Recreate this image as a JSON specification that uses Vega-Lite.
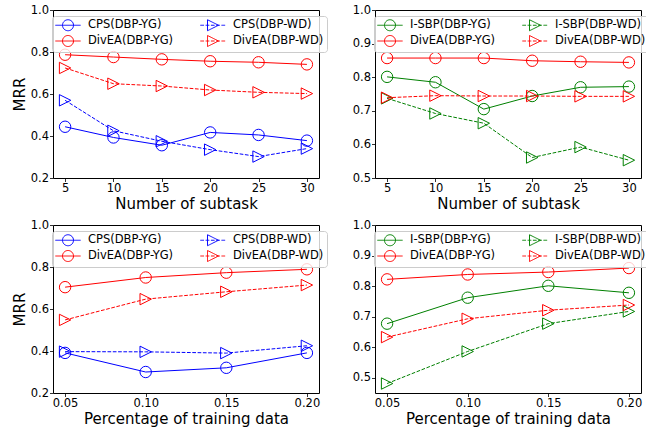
{
  "$schema": "https://vega.github.io/schema/vega-lite/v6.json",
  "background": "white",
  "padding": {"left": 11, "top": 3, "right": 2, "bottom": 2},
  "config": {
    "font": "DejaVu Sans",
    "view": {"stroke": "black", "strokeWidth": 1},
    "axis": {"grid": false, "domain": false, "ticks": true, "tickSize": 3.5, "tickColor": "black", "tickWidth": 0.8,
      "labelFontSize": 11.5, "labelFont": "DejaVu Sans", "labelColor": "black", "labelPadding": 1,
      "titleFontSize": 15, "titleFont": "DejaVu Sans", "titleFontWeight": "normal", "titleColor": "black", "titlePadding": 2,
      "labelFlush": false, "labelOverlap": false},
    "axisY": {"titlePadding": 3},
    "legend": {"orient": "none", "legendX": -1, "legendY": 6, "columns": 2, "title": null,
      "labelFontSize": 11.5, "labelFont": "DejaVu Sans", "labelColor": "black",
      "symbolSize": 121, "symbolOffset": 7, "labelOffset": 14, "columnPadding": 24, "rowPadding": 0, "padding": 3,
      "fillColor": "rgba(255,255,255,0.8)", "strokeColor": "#cccccc", "cornerRadius": 3, "symbolStrokeWidth": 1,
      "symbolFillColor": "transparent", "symbolOpacity": 1, "symbolDash": [1, 0]}
  },
  "datasets": {
    "tl": [
      {"x": 5, "y": 0.444, "s": "CPS(DBP-YG)"}, {"x": 10, "y": 0.393, "s": "CPS(DBP-YG)"}, {"x": 15, "y": 0.356, "s": "CPS(DBP-YG)"}, {"x": 20, "y": 0.417, "s": "CPS(DBP-YG)"}, {"x": 25, "y": 0.405, "s": "CPS(DBP-YG)"}, {"x": 30, "y": 0.378, "s": "CPS(DBP-YG)"},
      {"x": 5, "y": 0.570, "s": "CPS(DBP-WD)"}, {"x": 10, "y": 0.425, "s": "CPS(DBP-WD)"}, {"x": 15, "y": 0.375, "s": "CPS(DBP-WD)"}, {"x": 20, "y": 0.335, "s": "CPS(DBP-WD)"}, {"x": 25, "y": 0.302, "s": "CPS(DBP-WD)"}, {"x": 30, "y": 0.340, "s": "CPS(DBP-WD)"},
      {"x": 5, "y": 0.787, "s": "DivEA(DBP-YG)"}, {"x": 10, "y": 0.776, "s": "DivEA(DBP-YG)"}, {"x": 15, "y": 0.765, "s": "DivEA(DBP-YG)"}, {"x": 20, "y": 0.756, "s": "DivEA(DBP-YG)"}, {"x": 25, "y": 0.751, "s": "DivEA(DBP-YG)"}, {"x": 30, "y": 0.741, "s": "DivEA(DBP-YG)"},
      {"x": 5, "y": 0.724, "s": "DivEA(DBP-WD)"}, {"x": 10, "y": 0.649, "s": "DivEA(DBP-WD)"}, {"x": 15, "y": 0.638, "s": "DivEA(DBP-WD)"}, {"x": 20, "y": 0.619, "s": "DivEA(DBP-WD)"}, {"x": 25, "y": 0.608, "s": "DivEA(DBP-WD)"}, {"x": 30, "y": 0.602, "s": "DivEA(DBP-WD)"}
    ],
    "tr": [
      {"x": 5, "y": 0.801, "s": "I-SBP(DBP-YG)"}, {"x": 10, "y": 0.785, "s": "I-SBP(DBP-YG)"}, {"x": 15, "y": 0.705, "s": "I-SBP(DBP-YG)"}, {"x": 20, "y": 0.744, "s": "I-SBP(DBP-YG)"}, {"x": 25, "y": 0.770, "s": "I-SBP(DBP-YG)"}, {"x": 30, "y": 0.772, "s": "I-SBP(DBP-YG)"},
      {"x": 5, "y": 0.737, "s": "I-SBP(DBP-WD)"}, {"x": 10, "y": 0.692, "s": "I-SBP(DBP-WD)"}, {"x": 15, "y": 0.663, "s": "I-SBP(DBP-WD)"}, {"x": 20, "y": 0.561, "s": "I-SBP(DBP-WD)"}, {"x": 25, "y": 0.592, "s": "I-SBP(DBP-WD)"}, {"x": 30, "y": 0.553, "s": "I-SBP(DBP-WD)"},
      {"x": 5, "y": 0.857, "s": "DivEA(DBP-YG)"}, {"x": 10, "y": 0.857, "s": "DivEA(DBP-YG)"}, {"x": 15, "y": 0.857, "s": "DivEA(DBP-YG)"}, {"x": 20, "y": 0.849, "s": "DivEA(DBP-YG)"}, {"x": 25, "y": 0.846, "s": "DivEA(DBP-YG)"}, {"x": 30, "y": 0.844, "s": "DivEA(DBP-YG)"},
      {"x": 5, "y": 0.739, "s": "DivEA(DBP-WD)"}, {"x": 10, "y": 0.745, "s": "DivEA(DBP-WD)"}, {"x": 15, "y": 0.744, "s": "DivEA(DBP-WD)"}, {"x": 20, "y": 0.744, "s": "DivEA(DBP-WD)"}, {"x": 25, "y": 0.743, "s": "DivEA(DBP-WD)"}, {"x": 30, "y": 0.743, "s": "DivEA(DBP-WD)"}
    ],
    "bl": [
      {"x": 0.05, "y": 0.391, "s": "CPS(DBP-YG)"}, {"x": 0.10, "y": 0.300, "s": "CPS(DBP-YG)"}, {"x": 0.15, "y": 0.320, "s": "CPS(DBP-YG)"}, {"x": 0.20, "y": 0.391, "s": "CPS(DBP-YG)"},
      {"x": 0.05, "y": 0.397, "s": "CPS(DBP-WD)"}, {"x": 0.10, "y": 0.396, "s": "CPS(DBP-WD)"}, {"x": 0.15, "y": 0.390, "s": "CPS(DBP-WD)"}, {"x": 0.20, "y": 0.425, "s": "CPS(DBP-WD)"},
      {"x": 0.05, "y": 0.704, "s": "DivEA(DBP-YG)"}, {"x": 0.10, "y": 0.750, "s": "DivEA(DBP-YG)"}, {"x": 0.15, "y": 0.773, "s": "DivEA(DBP-YG)"}, {"x": 0.20, "y": 0.789, "s": "DivEA(DBP-YG)"},
      {"x": 0.05, "y": 0.548, "s": "DivEA(DBP-WD)"}, {"x": 0.10, "y": 0.647, "s": "DivEA(DBP-WD)"}, {"x": 0.15, "y": 0.682, "s": "DivEA(DBP-WD)"}, {"x": 0.20, "y": 0.714, "s": "DivEA(DBP-WD)"}
    ],
    "br": [
      {"x": 0.05, "y": 0.677, "s": "I-SBP(DBP-YG)"}, {"x": 0.10, "y": 0.762, "s": "I-SBP(DBP-YG)"}, {"x": 0.15, "y": 0.801, "s": "I-SBP(DBP-YG)"}, {"x": 0.20, "y": 0.778, "s": "I-SBP(DBP-YG)"},
      {"x": 0.05, "y": 0.481, "s": "I-SBP(DBP-WD)"}, {"x": 0.10, "y": 0.586, "s": "I-SBP(DBP-WD)"}, {"x": 0.15, "y": 0.677, "s": "I-SBP(DBP-WD)"}, {"x": 0.20, "y": 0.717, "s": "I-SBP(DBP-WD)"},
      {"x": 0.05, "y": 0.822, "s": "DivEA(DBP-YG)"}, {"x": 0.10, "y": 0.838, "s": "DivEA(DBP-YG)"}, {"x": 0.15, "y": 0.846, "s": "DivEA(DBP-YG)"}, {"x": 0.20, "y": 0.859, "s": "DivEA(DBP-YG)"},
      {"x": 0.05, "y": 0.633, "s": "DivEA(DBP-WD)"}, {"x": 0.10, "y": 0.693, "s": "DivEA(DBP-WD)"}, {"x": 0.15, "y": 0.721, "s": "DivEA(DBP-WD)"}, {"x": 0.20, "y": 0.738, "s": "DivEA(DBP-WD)"}
    ]
  },
  "resolve": {"scale": {"x": "independent", "y": "independent", "color": "independent", "shape": "independent"}, "legend": {"color": "independent", "shape": "independent"}},
  "spacing": 6,
  "vconcat": [
    {
      "spacing": 23,
      "resolve": {"scale": {"x": "independent", "y": "independent", "color": "independent", "shape": "independent"}, "legend": {"color": "independent", "shape": "independent"}},
      "hconcat": [
        {
          "width": 266, "height": 168,
          "data": {"name": "tl"},
          "encoding": {
            "x": {"field": "x", "type": "quantitative", "scale": {"domain": [3.75, 31.25], "nice": false, "zero": false}, "axis": {"values": [5, 10, 15, 20, 25, 30], "format": "d", "title": "Number of subtask"}},
            "y": {"field": "y", "type": "quantitative", "scale": {"domain": [0.2, 1.0], "nice": false, "zero": false}, "axis": {"values": [0.2, 0.4, 0.6, 0.8, 1.0], "format": ".1f", "title": "MRR"}},
            "color": {"field": "s", "type": "nominal", "title": null, "scale": {"domain": ["CPS(DBP-YG)", "DivEA(DBP-YG)", "CPS(DBP-WD)", "DivEA(DBP-WD)"], "range": ["#0000ff", "#ff0000", "#0000ff", "#ff0000"]}}
          },
          "layer": [
            {"transform": [{"filter": "indexof(datum.s,'YG')>=0"}], "mark": {"type": "line", "strokeWidth": 1}},
            {"transform": [{"filter": "indexof(datum.s,'WD')>=0"}], "mark": {"type": "line", "strokeWidth": 1, "strokeDash": [3.7, 1.6]}},
            {"transform": [{"filter": "indexof(datum.s,'YG')>=0"}], "mark": {"type": "point", "shape": "circle", "filled": false, "strokeWidth": 1, "size": 130, "opacity": 1}},
            {"transform": [{"filter": "indexof(datum.s,'WD')>=0"}], "mark": {"type": "point", "shape": "M1,0L-1,1L-1,-1Z", "filled": false, "strokeWidth": 1, "size": 130, "opacity": 1}},
            {"transform": [{"filter": "false"}], "mark": {"type": "point", "filled": false, "strokeWidth": 1, "opacity": 1},
             "encoding": {"shape": {"field": "s", "type": "nominal", "title": null, "scale": {"domain": ["CPS(DBP-YG)", "DivEA(DBP-YG)", "CPS(DBP-WD)", "DivEA(DBP-WD)"], "range": [
               "M-2.3,0L2.3,0M1,0C1,0.55 0.55,1 0,1C-0.55,1 -1,0.55 -1,0C-1,-0.55 -0.55,-1 0,-1C0.55,-1 1,-0.55 1,0Z",
               "M-2.3,0L2.3,0M1,0C1,0.55 0.55,1 0,1C-0.55,1 -1,0.55 -1,0C-1,-0.55 -0.55,-1 0,-1C0.55,-1 1,-0.55 1,0Z",
               "M-2.3,0L-1.63,0M-1.34,0L-0.67,0M-0.38,0L0.29,0M0.58,0L1.25,0M1.54,0L2.21,0M1,0L-1,1L-1,-1Z",
               "M-2.3,0L-1.63,0M-1.34,0L-0.67,0M-0.38,0L0.29,0M0.58,0L1.25,0M1.54,0L2.21,0M1,0L-1,1L-1,-1Z"]}}}}
          ]
        },
        {
          "width": 266, "height": 168,
          "data": {"name": "tr"},
          "encoding": {
            "x": {"field": "x", "type": "quantitative", "scale": {"domain": [3.75, 31.25], "nice": false, "zero": false}, "axis": {"values": [5, 10, 15, 20, 25, 30], "format": "d", "title": "Number of subtask"}},
            "y": {"field": "y", "type": "quantitative", "scale": {"domain": [0.5, 1.0], "nice": false, "zero": false}, "axis": {"values": [0.5, 0.6, 0.7, 0.8, 0.9, 1.0], "format": ".1f", "title": null}},
            "color": {"field": "s", "type": "nominal", "title": null, "scale": {"domain": ["I-SBP(DBP-YG)", "DivEA(DBP-YG)", "I-SBP(DBP-WD)", "DivEA(DBP-WD)"], "range": ["#008000", "#ff0000", "#008000", "#ff0000"]}}
          },
          "layer": [
            {"transform": [{"filter": "indexof(datum.s,'YG')>=0"}], "mark": {"type": "line", "strokeWidth": 1}},
            {"transform": [{"filter": "indexof(datum.s,'WD')>=0"}], "mark": {"type": "line", "strokeWidth": 1, "strokeDash": [3.7, 1.6]}},
            {"transform": [{"filter": "indexof(datum.s,'YG')>=0"}], "mark": {"type": "point", "shape": "circle", "filled": false, "strokeWidth": 1, "size": 130, "opacity": 1}},
            {"transform": [{"filter": "indexof(datum.s,'WD')>=0"}], "mark": {"type": "point", "shape": "M1,0L-1,1L-1,-1Z", "filled": false, "strokeWidth": 1, "size": 130, "opacity": 1}},
            {"transform": [{"filter": "false"}], "mark": {"type": "point", "filled": false, "strokeWidth": 1, "opacity": 1},
             "encoding": {"shape": {"field": "s", "type": "nominal", "title": null, "scale": {"domain": ["I-SBP(DBP-YG)", "DivEA(DBP-YG)", "I-SBP(DBP-WD)", "DivEA(DBP-WD)"], "range": [
               "M-2.3,0L2.3,0M1,0C1,0.55 0.55,1 0,1C-0.55,1 -1,0.55 -1,0C-1,-0.55 -0.55,-1 0,-1C0.55,-1 1,-0.55 1,0Z",
               "M-2.3,0L2.3,0M1,0C1,0.55 0.55,1 0,1C-0.55,1 -1,0.55 -1,0C-1,-0.55 -0.55,-1 0,-1C0.55,-1 1,-0.55 1,0Z",
               "M-2.3,0L-1.63,0M-1.34,0L-0.67,0M-0.38,0L0.29,0M0.58,0L1.25,0M1.54,0L2.21,0M1,0L-1,1L-1,-1Z",
               "M-2.3,0L-1.63,0M-1.34,0L-0.67,0M-0.38,0L0.29,0M0.58,0L1.25,0M1.54,0L2.21,0M1,0L-1,1L-1,-1Z"]}}}}
          ]
        }
      ]
    },
    {
      "spacing": 23,
      "resolve": {"scale": {"x": "independent", "y": "independent", "color": "independent", "shape": "independent"}, "legend": {"color": "independent", "shape": "independent"}},
      "hconcat": [
        {
          "width": 266, "height": 168,
          "data": {"name": "bl"},
          "encoding": {
            "x": {"field": "x", "type": "quantitative", "scale": {"domain": [0.0425, 0.2075], "nice": false, "zero": false}, "axis": {"values": [0.05, 0.1, 0.15, 0.2], "format": ".2f", "title": "Percentage of training data"}},
            "y": {"field": "y", "type": "quantitative", "scale": {"domain": [0.2, 1.0], "nice": false, "zero": false}, "axis": {"values": [0.2, 0.4, 0.6, 0.8, 1.0], "format": ".1f", "title": "MRR"}},
            "color": {"field": "s", "type": "nominal", "title": null, "scale": {"domain": ["CPS(DBP-YG)", "DivEA(DBP-YG)", "CPS(DBP-WD)", "DivEA(DBP-WD)"], "range": ["#0000ff", "#ff0000", "#0000ff", "#ff0000"]}}
          },
          "layer": [
            {"transform": [{"filter": "indexof(datum.s,'YG')>=0"}], "mark": {"type": "line", "strokeWidth": 1}},
            {"transform": [{"filter": "indexof(datum.s,'WD')>=0"}], "mark": {"type": "line", "strokeWidth": 1, "strokeDash": [3.7, 1.6]}},
            {"transform": [{"filter": "indexof(datum.s,'YG')>=0"}], "mark": {"type": "point", "shape": "circle", "filled": false, "strokeWidth": 1, "size": 130, "opacity": 1}},
            {"transform": [{"filter": "indexof(datum.s,'WD')>=0"}], "mark": {"type": "point", "shape": "M1,0L-1,1L-1,-1Z", "filled": false, "strokeWidth": 1, "size": 130, "opacity": 1}},
            {"transform": [{"filter": "false"}], "mark": {"type": "point", "filled": false, "strokeWidth": 1, "opacity": 1},
             "encoding": {"shape": {"field": "s", "type": "nominal", "title": null, "scale": {"domain": ["CPS(DBP-YG)", "DivEA(DBP-YG)", "CPS(DBP-WD)", "DivEA(DBP-WD)"], "range": [
               "M-2.3,0L2.3,0M1,0C1,0.55 0.55,1 0,1C-0.55,1 -1,0.55 -1,0C-1,-0.55 -0.55,-1 0,-1C0.55,-1 1,-0.55 1,0Z",
               "M-2.3,0L2.3,0M1,0C1,0.55 0.55,1 0,1C-0.55,1 -1,0.55 -1,0C-1,-0.55 -0.55,-1 0,-1C0.55,-1 1,-0.55 1,0Z",
               "M-2.3,0L-1.63,0M-1.34,0L-0.67,0M-0.38,0L0.29,0M0.58,0L1.25,0M1.54,0L2.21,0M1,0L-1,1L-1,-1Z",
               "M-2.3,0L-1.63,0M-1.34,0L-0.67,0M-0.38,0L0.29,0M0.58,0L1.25,0M1.54,0L2.21,0M1,0L-1,1L-1,-1Z"]}}}}
          ]
        },
        {
          "width": 266, "height": 168,
          "data": {"name": "br"},
          "encoding": {
            "x": {"field": "x", "type": "quantitative", "scale": {"domain": [0.0425, 0.2075], "nice": false, "zero": false}, "axis": {"values": [0.05, 0.1, 0.15, 0.2], "format": ".2f", "title": "Percentage of training data"}},
            "y": {"field": "y", "type": "quantitative", "scale": {"domain": [0.45, 1.0], "nice": false, "zero": false}, "axis": {"values": [0.5, 0.6, 0.7, 0.8, 0.9, 1.0], "format": ".1f", "title": null}},
            "color": {"field": "s", "type": "nominal", "title": null, "scale": {"domain": ["I-SBP(DBP-YG)", "DivEA(DBP-YG)", "I-SBP(DBP-WD)", "DivEA(DBP-WD)"], "range": ["#008000", "#ff0000", "#008000", "#ff0000"]}}
          },
          "layer": [
            {"transform": [{"filter": "indexof(datum.s,'YG')>=0"}], "mark": {"type": "line", "strokeWidth": 1}},
            {"transform": [{"filter": "indexof(datum.s,'WD')>=0"}], "mark": {"type": "line", "strokeWidth": 1, "strokeDash": [3.7, 1.6]}},
            {"transform": [{"filter": "indexof(datum.s,'YG')>=0"}], "mark": {"type": "point", "shape": "circle", "filled": false, "strokeWidth": 1, "size": 130, "opacity": 1}},
            {"transform": [{"filter": "indexof(datum.s,'WD')>=0"}], "mark": {"type": "point", "shape": "M1,0L-1,1L-1,-1Z", "filled": false, "strokeWidth": 1, "size": 130, "opacity": 1}},
            {"transform": [{"filter": "false"}], "mark": {"type": "point", "filled": false, "strokeWidth": 1, "opacity": 1},
             "encoding": {"shape": {"field": "s", "type": "nominal", "title": null, "scale": {"domain": ["I-SBP(DBP-YG)", "DivEA(DBP-YG)", "I-SBP(DBP-WD)", "DivEA(DBP-WD)"], "range": [
               "M-2.3,0L2.3,0M1,0C1,0.55 0.55,1 0,1C-0.55,1 -1,0.55 -1,0C-1,-0.55 -0.55,-1 0,-1C0.55,-1 1,-0.55 1,0Z",
               "M-2.3,0L2.3,0M1,0C1,0.55 0.55,1 0,1C-0.55,1 -1,0.55 -1,0C-1,-0.55 -0.55,-1 0,-1C0.55,-1 1,-0.55 1,0Z",
               "M-2.3,0L-1.63,0M-1.34,0L-0.67,0M-0.38,0L0.29,0M0.58,0L1.25,0M1.54,0L2.21,0M1,0L-1,1L-1,-1Z",
               "M-2.3,0L-1.63,0M-1.34,0L-0.67,0M-0.38,0L0.29,0M0.58,0L1.25,0M1.54,0L2.21,0M1,0L-1,1L-1,-1Z"]}}}}
          ]
        }
      ]
    }
  ]
}
